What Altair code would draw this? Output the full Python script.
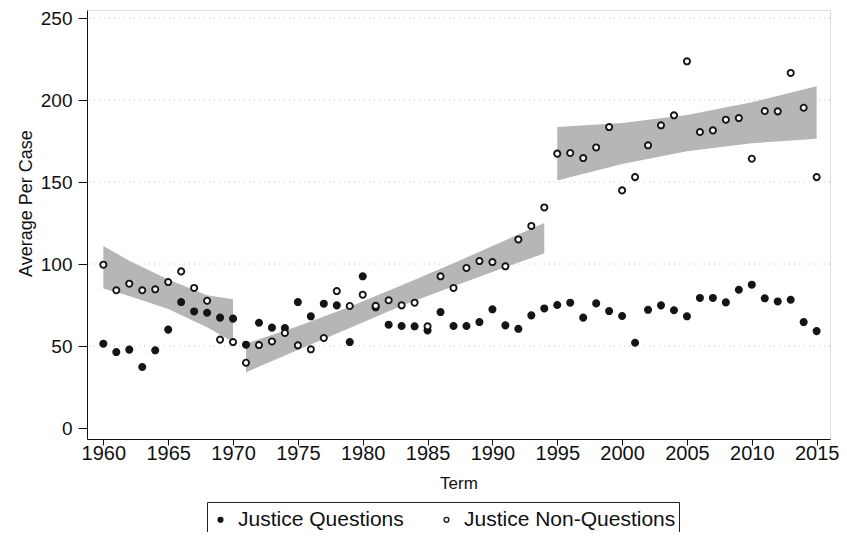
import altair as alt
import pandas as pd

# ---- data ----
years = list(range(1960, 2016))
series_names = ["Justice Questions", "Justice Non-Questions"]

questions = [51.4, 46.3, 47.8, 37.2, 47.4, 60.0, 76.8, 71.1, 70.3, 67.3,
             66.7, 50.8, 64.2, 61.2, 61.0, 76.8, 68.1, 75.8, 74.8, 52.4,
             92.5, 73.6, 63.0, 62.2, 62.0, 59.5, 70.7, 62.2, 62.2, 64.6,
             72.4, 62.6, 60.5, 68.7, 72.9, 75.0, 76.4, 67.3, 76.0, 71.3,
             68.3, 52.0, 72.1, 74.8, 71.8, 68.1, 79.3, 79.3, 76.6, 84.3,
             87.4, 79.1, 77.2, 78.2, 64.6, 59.1]

non_questions = [99.6, 84.0, 88.0, 84.0, 84.6, 89.0, 95.5, 85.4, 77.6, 53.9,
                 52.4, 39.8, 50.6, 52.8, 58.0, 50.4, 48.0, 54.9, 83.5, 74.4,
                 81.3, 74.5, 77.9, 74.8, 76.4, 62.0, 92.5, 85.4, 97.6, 101.8,
                 101.2, 98.6, 115.0, 123.2, 134.5, 167.3, 167.7, 164.6, 171.1, 183.5,
                 144.9, 153.0, 172.4, 184.6, 190.7, 223.6, 180.5, 181.5, 188.0, 189.0,
                 164.2, 193.3, 193.1, 216.5, 195.3, 153.0]

# confidence bands of the three linear fits
band_seg = [1, 1, 1, 1, 1,
            2, 2, 2, 2, 2, 2, 2,
            3, 3, 3, 3, 3]
band_year = [1960, 1962, 1965, 1968, 1970,
             1971, 1975, 1979, 1983, 1987, 1991, 1994,
             1995, 2000, 2005, 2010, 2015]
band_lo = [85.0, 80.5, 72.5, 61.5, 52.5,
           34.0, 47.5, 61.0, 74.5, 86.5, 98.0, 106.5,
           151.0, 161.0, 168.8, 173.6, 176.4]
band_hi = [111.0, 102.0, 90.5, 81.0, 78.5,
           51.5, 62.0, 74.0, 87.0, 100.5, 114.5, 125.0,
           183.5, 186.0, 190.8, 198.6, 208.4]

x_ticks = [1960, 1965, 1970, 1975, 1980, 1985, 1990, 1995, 2000, 2005, 2010, 2015]
y_ticks = [0, 50, 100, 150, 200, 250]
grid_values = [50, 100, 150, 200, 250]

# ---- tables ----
pts = pd.DataFrame({
    "year": years + years,
    "value": questions + non_questions,
    "series": [series_names[0]] * len(years) + [series_names[1]] * len(years),
})
band = pd.DataFrame({"seg": band_seg, "year": band_year, "lo": band_lo, "hi": band_hi})
grid_df = pd.DataFrame({"g": grid_values})

FONT = "Liberation Sans"
xscale = alt.Scale(domain=[1958.74, 2016.03], nice=False, zero=False)
yscale = alt.Scale(domain=[-6.7, 254.9], nice=False, zero=False)

x_axis = alt.Axis(values=x_ticks, format="d", grid=False, labelFontSize=20, labelFont=FONT,
                  labelColor="#111111", tickSize=6, tickColor="#111111", domainColor="#111111",
                  labelPadding=-2, title="Term", titleFont=FONT, titleFontSize=17,
                  titleFontWeight="normal", titleColor="#111111", titleY=44,
                  titleBaseline="middle", labelFlush=False)
y_axis = alt.Axis(values=y_ticks, grid=False, labelFontSize=19, labelFont=FONT,
                  labelColor="#111111", tickSize=9, tickColor="#111111", domainColor="#111111",
                  labelPadding=6, title="Average Per Case", titleFont=FONT, titleFontSize=18,
                  titleFontWeight="normal", titleColor="#111111", titleX=-61, titleY=193,
                  titleAngle=270, titleBaseline="middle", titleAlign="center", labelFlush=False)

grid = alt.Chart(grid_df).mark_rule(color="#c4c4c4", strokeDash=[1, 4], strokeWidth=1).encode(
    y=alt.Y("g:Q", scale=yscale, axis=y_axis)
)

bands = alt.Chart(band).mark_area(color="#b6b6b6", opacity=1).encode(
    x=alt.X("year:Q", scale=xscale, axis=x_axis),
    y=alt.Y("lo:Q", scale=yscale, axis=y_axis),
    y2="hi:Q",
    detail="seg:N",
)

points = alt.Chart(pts).mark_point(filled=True, shape="circle", stroke="#151515",
                                   strokeWidth=1.9, size=38, opacity=1).encode(
    x=alt.X("year:Q", scale=xscale, axis=x_axis),
    y=alt.Y("value:Q", scale=yscale, axis=y_axis),
    fill=alt.Fill("series:N",
                  scale=alt.Scale(domain=series_names, range=["#151515", "#ffffff"]),
                  sort=series_names,
                  legend=alt.Legend(title=" ", titleFontSize=4, titlePadding=0,
                                    orient="none", legendX=120, legendY=492,
                                    direction="horizontal", strokeColor="#222222",
                                    padding=3, labelFontSize=21, labelFont=FONT,
                                    labelColor="#111111", labelLimit=0, symbolType="circle",
                                    symbolSize=24, symbolStrokeWidth=1.3,
                                    symbolStrokeColor="#151515", columnPadding=32,
                                    labelOffset=7)),
)

chart = alt.layer(grid, bands, points).properties(
    width=743, height=429,
    autosize=alt.AutoSizeParams(type="none"),
    padding={"left": 79, "top": 2, "right": 9, "bottom": 93},
    background="white",
).configure_view(stroke=None).configure(font=FONT)

chart.save("out.html", embed_options={"renderer": "svg", "actions": False})
